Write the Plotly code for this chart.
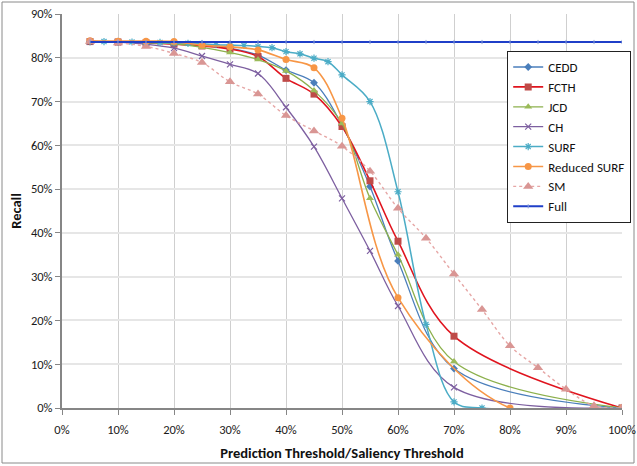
import plotly.graph_objects as go

# ---- data (percent) ----
x_main = [5, 10, 15, 20, 25, 30, 35, 40, 45, 50, 55, 60, 70, 100]
cedd = [83.7, 83.7, 83.6, 83.4, 83.0, 82.2, 80.6, 77.2, 74.3, 64.6, 50.6, 33.6, 9.0, 0]
fcth = [83.7, 83.6, 83.4, 83.1, 82.7, 82.0, 80.3, 75.3, 71.7, 64.3, 51.9, 38.1, 16.4, 0]
jcd = [83.7, 83.6, 83.4, 83.2, 82.4, 81.2, 79.6, 77.0, 72.5, 65.0, 47.9, 35.0, 10.6, 0]
ch = [83.7, 83.6, 83.1, 82.2, 80.4, 78.5, 76.4, 68.7, 59.7, 47.9, 35.9, 23.3, 4.7, 0]

x_surf = [5, 7.5, 10, 12.5, 15, 17.5, 20, 22.5, 25, 27.5, 30, 32.5, 35, 37.5,
          40, 42.5, 45, 47.5, 50, 55, 60, 65, 70, 75, 100]
surf = [83.7, 83.7, 83.6, 83.6, 83.5, 83.5, 83.4, 83.3, 83.2, 83.0, 82.9, 82.8,
        82.6, 82.3, 81.4, 80.9, 79.9, 79.1, 76.1, 70.0, 49.4, 19.1, 1.4, 0, 0]

x_rsurf = [5, 10, 15, 20, 25, 30, 35, 40, 45, 50, 60, 80, 100]
rsurf = [83.9, 83.8, 83.8, 83.7, 82.9, 82.5, 81.8, 79.6, 77.7, 66.2, 25.2, 0, 0]

x_sm = [5, 10, 15, 20, 25, 30, 35, 40, 45, 50, 55, 60, 65, 70, 75, 80, 85, 90, 95, 100]
sm = [83.7, 83.4, 82.6, 81.0, 78.9, 74.5, 71.7, 66.8, 63.3, 59.8, 54.1, 45.6, 38.8,
      30.6, 22.5, 14.2, 9.2, 4.3, 0.5, 0]

x_full = [5, 10, 15, 20, 25, 30, 35, 40, 45, 50, 55, 60, 65, 70, 75, 80, 85, 90, 95, 100]
full = [83.6] * len(x_full)

x_ticks = [0, 10, 20, 30, 40, 50, 60, 70, 80, 90, 100]
y_ticks = [0, 10, 20, 30, 40, 50, 60, 70, 80, 90]

FONT = "Carlito, Lato, 'Liberation Sans', sans-serif"

fig = go.Figure()

def add(name, xs, ys, color, mcolor, symbol, msize, width, dash="solid", mline=None):
    marker = dict(symbol=symbol, size=msize, color=mcolor)
    if mline:
        marker["line"] = dict(color=mline, width=1.2)
    fig.add_trace(go.Scatter(
        x=xs, y=ys, name=name, mode="lines+markers",
        line=dict(color=color, width=width, shape="spline", smoothing=1.0, dash=dash),
        marker=marker))

add("CEDD", x_main, cedd, "#4a7ebb", "#4a7ebb", "diamond", 6, 1.3)
add("FCTH", x_main, fcth, "#e0141e", "#be4b48", "square", 7, 1.6)
add("JCD", x_main, jcd, "#8cb04c", "#9bbb59", "triangle-up", 7, 1.3)
add("CH", x_main, ch, "#7d5fa0", "#7d5fa0", "x-thin-open", 6, 1.3, mline="#7d5fa0")
add("SURF", x_surf, surf, "#4bacc6", "#4bacc6", "asterisk-open", 6, 1.5, mline="#4bacc6")
add("Reduced SURF", x_rsurf, rsurf, "#f79646", "#f79646", "circle", 7, 1.6)
add("SM", x_sm, sm, "#e6a6a5", "#d99694", "triangle-up", 9, 1.4, dash="dot")
fig.add_trace(go.Scatter(
    x=x_full, y=full, name="Full", mode="lines+markers",
    line=dict(color="#1f3fc8", width=2),
    marker=dict(symbol="line-ns", size=3, color="#8aa0d8", line=dict(color="#8aa0d8", width=1))))

fig.update_layout(
    width=637, height=466,
    margin=dict(l=62, r=15, t=14, b=58, autoexpand=False),
    paper_bgcolor="white", plot_bgcolor="white",
    font=dict(family=FONT, size=12.5, color="#1a1a1a"),
    legend=dict(x=0.795, y=0.906, xanchor="left", yanchor="top",
                bordercolor="#222222", borderwidth=1, bgcolor="white",
                font=dict(size=13, family=FONT, color="#111111"),
                tracegroupgap=0, itemwidth=30),
    showlegend=True,
)
fig.update_xaxes(
    range=[0, 100], tickvals=x_ticks, ticktext=[f"{v}%" for v in x_ticks],
    showgrid=True, gridcolor="#cfcfcf", gridwidth=1,
    showline=True, linecolor="#868686", linewidth=2,
    ticks="outside", ticklen=5, tickcolor="#868686", tickwidth=1,
    zeroline=False, automargin=False, ticklabelstandoff=4,
    title=dict(text="<b>Prediction Threshold/Saliency Threshold</b>",
               font=dict(size=14.5, family=FONT, color="#111111"), standoff=12),
)
fig.update_yaxes(
    range=[0, 90], tickvals=y_ticks, ticktext=[f"{v}%" for v in y_ticks],
    showgrid=True, gridcolor="#e6e6e6", gridwidth=2,
    showline=True, linecolor="#868686", linewidth=2,
    ticks="outside", ticklen=5, tickcolor="#868686", tickwidth=1,
    zeroline=False, automargin=False,
    title=dict(text="<b>Recall</b>", font=dict(size=14.5, family=FONT, color="#111111"), standoff=6),
)
# outer chart border
fig.add_shape(type="rect", xref="paper", yref="paper",
              x0=(2 - 62) / 560, x1=(634 - 62) / 560,
              y0=(408 - 463) / 394, y1=(408 - 2) / 394,
              line=dict(color="#8a8a8a", width=1), layer="below")

fig.write_html("out.html", config={"displayModeBar": False},
               post_script="document.body.style.margin='0';document.body.style.overflow='hidden';")
